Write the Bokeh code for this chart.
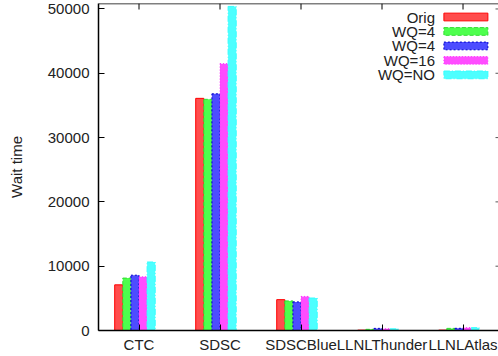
from bokeh.plotting import figure
from bokeh.models import Range1d, FixedTicker, ColumnDataSource, Span
from bokeh.core.properties import value
from bokeh.embed import file_html
from bokeh.resources import INLINE

# Machines (x categories) and mean wait time per queue policy
machines = ["CTC", "SDSC", "SDSCBlue", "LLNLThunder", "LLNLAtlas"]
series_names = ["Orig", "WQ=4", "WQ=4", "WQ=16", "WQ=NO"]
orig = [7100, 36100, 4800, 60, 60]
wq4_a = [8150, 35950, 4600, 180, 330]
wq4_b = [8600, 36800, 4450, 330, 340]
wq16 = [8350, 41500, 5300, 280, 440]
wqno = [10650, 50400, 5050, 260, 440]
y_ticks = [0, 10000, 20000, 30000, 40000, 50000]

series = [orig, wq4_a, wq4_b, wq16, wqno]
fills = ["#ff4d4d", "#4dff4d", "#4d4dff", "#ff4dff", "#4dffff"]
lines = ["#ff0000", "#33dd33", "#0000cc", "#ff33ff", "#33ffff"]
dashes = ["solid", "4 2", "2 2", "1 2", "6 2 1 2"]

FONT = "Liberation Sans"
X0, X1 = -0.5, 4.438
Y0, Y1 = 0, 50850
FRAME_W, FRAME_H = 400, 327

p = figure(width=498, height=356, output_backend="svg", toolbar_location=None,
           x_range=Range1d(X0, X1), y_range=Range1d(Y0, Y1),
           min_border_left=98, min_border_right=0, min_border_top=3,
           min_border_bottom=26)
p.outline_line_color = None
p.grid.visible = False
p.background_fill_color = "white"
p.border_fill_color = "white"

cat_ticks = list(range(len(machines)))

# bottom axis with machine names
xa = p.xaxis[0]
xa.ticker = FixedTicker(ticks=cat_ticks)
xa.major_label_overrides = {i: m for i, m in enumerate(machines)}
xa.major_tick_in = 6
xa.major_tick_out = 0
xa.minor_tick_line_color = None
xa.major_label_standoff = 5
xa.axis_line_color = "black"
xa.axis_line_width = 1.5
xa.major_label_text_font = FONT
xa.major_label_text_font_size = "15px"
xa.major_label_text_color = "#222222"

# left axis
ya = p.yaxis[0]
ya.ticker = FixedTicker(ticks=y_ticks)
ya.major_tick_in = 6
ya.major_tick_out = 0
ya.minor_tick_line_color = None
ya.major_label_standoff = 9
ya.axis_line_width = 1.5
ya.major_label_text_font = FONT
ya.major_label_text_font_size = "15px"
ya.major_label_text_color = "#222222"
ya.axis_label = "Wait time"
ya.axis_label_text_font = FONT
ya.axis_label_text_font_size = "15px"
ya.axis_label_text_font_style = "normal"
ya.axis_label_text_color = "#222222"
ya.axis_label_standoff = 20

# top border with mirrored (inward) category ticks
p.add_layout(Span(location=Y1, dimension="width", line_color="black",
                  line_width=1.5))
tick_dy = 6 * (Y1 - Y0) / FRAME_H
p.segment(x0=cat_ticks, x1=cat_ticks, y0=[Y1] * len(cat_ticks),
          y1=[Y1 - tick_dy] * len(cat_ticks), line_color="black", line_width=1)

# mirrored y ticks peeking in at the right edge
tick_dx = 3 * (X1 - X0) / FRAME_W
p.segment(x0=[X1 - tick_dx] * len(y_ticks), x1=[X1] * len(y_ticks),
          y0=y_ticks, y1=y_ticks, line_color="#555555", line_width=1)

# clustered bars
width = 0.1
for j, vals in enumerate(series):
    xs = [i - 0.25 + width * j for i in range(len(machines))]
    src = ColumnDataSource(dict(x=xs, top=vals))
    p.vbar(x="x", top="top", width=width, bottom=0, source=src,
           fill_color=fills[j], line_color=lines[j], line_width=1,
           line_dash=dashes[j])

# legend (top right), labels right-aligned to the left of the swatches
legend_y = [48750, 46500, 44250, 42000, 39750]
half_h = 600
p.text(x=[3.654] * 5, y=legend_y, text=series_names,
       text_font=value(FONT), text_font_size="15px", text_color="#222222",
       text_align="right", text_baseline="middle")
for j in range(5):
    p.quad(left=[3.764], right=[4.307], bottom=[legend_y[j] - half_h],
           top=[legend_y[j] + half_h], fill_color=fills[j],
           line_color=lines[j], line_width=1, line_dash=dashes[j])

open("out.html", "w").write(file_html(p, INLINE))
